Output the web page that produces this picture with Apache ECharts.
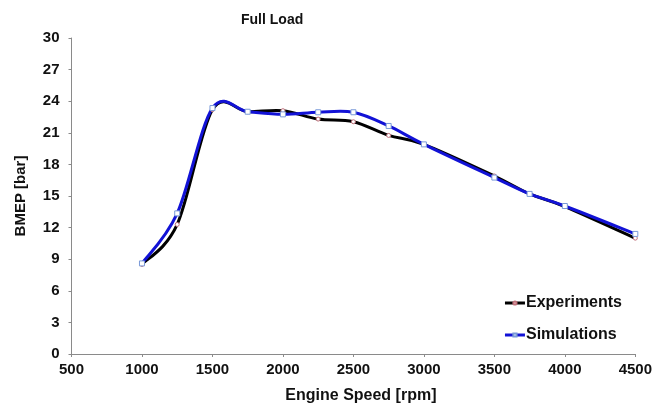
<!DOCTYPE html>
<html>
<head>
<meta charset="utf-8">
<script src="https://cdn.jsdelivr.net/npm/echarts@6/dist/echarts.min.js"></script>
<style>html,body{margin:0;padding:0;background:#fff}#c{width:655px;height:417px}</style>
</head>
<body>
<div id="c"></div>
<script>
const speeds = [1000, 1250, 1500, 1750, 2000, 2250, 2500, 2750, 3000, 3500, 3750, 4000, 4500];
const experiments = [8.5, 12.3, 23.2, 23.0, 23.1, 22.3, 22.05, 20.75, 19.9, 16.9, 15.2, 14.0, 11.0];
const simulations = [8.6, 13.35, 23.35, 23.0, 22.75, 22.95, 22.95, 21.65, 19.9, 16.75, 15.2, 14.05, 11.4];
const xTicks = [500, 4500, 500];
const yTicks = [0, 30, 3];

const pair = (xs, ys) => xs.map((x, i) => [x, ys[i]]);
const font = 'Liberation Sans, Arial, sans-serif';

// Excel-like smoothed curve: each segment i -> i+1 is a cubic Bezier through
// data points converted with the chart's own coordinate system.
function smoothSegment(points, color) {
  return function (params, api) {
    const i = params.dataIndex;
    if (i >= points.length - 1) return null;
    const P = k => api.coord(points[Math.max(0, Math.min(points.length - 1, k))]);
    const p0 = P(i - 1), p1 = P(i), p2 = P(i + 1), p3 = P(i + 2);
    const t = 1 / 6;
    return {
      type: 'bezierCurve',
      shape: {
        x1: p1[0], y1: p1[1], x2: p2[0], y2: p2[1],
        cpx1: p1[0] + (p2[0] - p0[0]) * t, cpy1: p1[1] + (p2[1] - p0[1]) * t,
        cpx2: p2[0] - (p3[0] - p1[0]) * t, cpy2: p2[1] - (p3[1] - p1[1]) * t
      },
      style: {stroke: color, lineWidth: 3, fill: null, lineCap: 'round'},
      silent: true
    };
  };
}

const expData = pair(speeds, experiments);
const simData = pair(speeds, simulations);

const labelStyle = {color: '#111', fontWeight: 'bold', fontSize: 15, fontFamily: font};
const axisCommon = {
  axisLine: {show: true, lineStyle: {color: '#8a8a8a', width: 1}},
  axisTick: {show: true, length: 3, lineStyle: {color: '#8a8a8a'}},
  splitLine: {show: false}
};
const chart = echarts.init(document.getElementById('c'), null, {renderer: 'canvas'});
chart.setOption({
  animation: false,
  backgroundColor: '#fff',
  title: {text: 'Full Load', left: 236, top: 8,
    textStyle: {fontSize: 14, fontWeight: 'bold', color: '#111', fontFamily: font}},
  grid: {left: 71.5, right: 18, top: 38, bottom: 63},
  xAxis: Object.assign({type: 'value', min: xTicks[0], max: xTicks[1], interval: xTicks[2],
    name: 'Engine Speed [rpm]', nameLocation: 'middle', nameGap: 34,
    nameTextStyle: {color: '#111', fontWeight: 'bold', fontSize: 16, fontFamily: font, padding: [0, 0, 0, 15]},
    axisLabel: Object.assign({}, labelStyle, {margin: 8, formatter: v => String(v)})}, axisCommon),
  yAxis: Object.assign({type: 'value', min: yTicks[0], max: yTicks[1], interval: yTicks[2],
    name: 'BMEP [bar]', nameLocation: 'middle', nameGap: 43,
    nameTextStyle: {color: '#111', fontWeight: 'bold', fontSize: 15, fontFamily: font},
    axisLabel: Object.assign({}, labelStyle, {margin: 12})}, axisCommon),
  legend: {
    orient: 'vertical', right: 28, top: 290, itemGap: 16, itemWidth: 20, itemHeight: 4,
    textStyle: {fontSize: 16, fontWeight: 'bold', color: '#111', fontFamily: font, padding: [0, 0, 0, -4]},
    data: [
      {name: 'Experiments', lineStyle: {opacity: 1, width: 3}},
      {name: 'Simulations', lineStyle: {opacity: 1, width: 3}}
    ]
  },
  series: [
    {type: 'custom', name: 'expCurve', data: expData, renderItem: smoothSegment(expData, '#000'),
      z: 1, silent: true, clip: true},
    {type: 'custom', name: 'simCurve', data: simData, renderItem: smoothSegment(simData, '#1212d6'),
      z: 2, silent: true, clip: true},
    {name: 'Experiments', type: 'line', data: expData,
      symbol: 'circle', symbolSize: 4, showSymbol: true,
      lineStyle: {color: '#000', width: 3, opacity: 0},
      itemStyle: {color: '#fff', borderColor: '#c0707a', borderWidth: 1}, z: 3},
    {name: 'Simulations', type: 'line', data: simData,
      symbol: 'rect', symbolSize: 5, showSymbol: true,
      lineStyle: {color: '#1212d6', width: 3, opacity: 0},
      itemStyle: {color: '#fff', borderColor: '#7a9ad8', borderWidth: 1}, z: 4}
  ]
});
</script>
</body>
</html>
